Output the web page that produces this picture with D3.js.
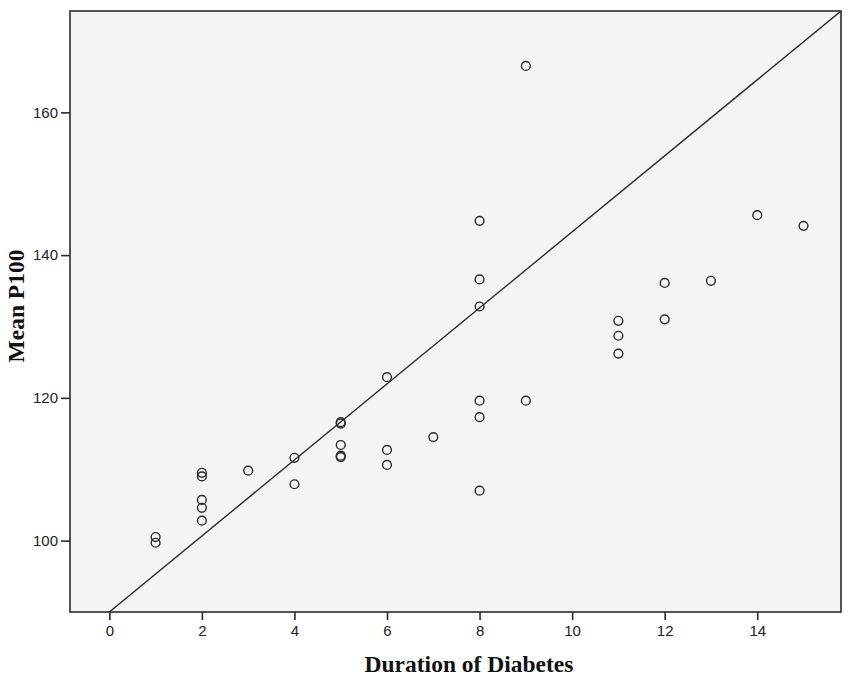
<!DOCTYPE html>
<html><head><meta charset="utf-8">
<script src="https://cdn.jsdelivr.net/npm/d3@7"></script>
<style>body{margin:0;background:#fff}svg{display:block}</style>
</head><body>
<svg id="c" width="850" height="679"></svg>
<script>
const duration = [1,1,2,2,2,2,2,3,4,4,5,5,5,5,5,6,6,6,7,8,8,8,8,8,8,9,9,11,11,11,12,12,13,14,15];
const meanP100 = [100.5,99.7,109.5,109.0,105.7,104.6,102.8,109.8,111.6,107.9,116.6,116.4,113.4,111.9,111.7,122.9,112.7,110.6,114.5,144.8,136.6,132.8,119.6,117.3,107.0,166.5,119.6,130.8,128.7,126.2,136.1,131.0,136.4,145.6,144.1];
const xTicks = [0,2,4,6,8,10,12,14];
const yTicks = [100,120,140,160];
const refLine = [[0,90],[15.81,174.2]];
const xDomain = [-0.85, 15.81];
const yDomain = [90, 174.2];

const svg = d3.select("#c");
const L = 70, R = 841, T = 11, B = 612;
const x = d3.scaleLinear().domain(xDomain).range([L, R]);
const y = d3.scaleLinear().domain(yDomain).range([B, T]);

svg.append("rect").attr("x", L).attr("y", T).attr("width", R-L).attr("height", B-T)
  .attr("fill", "#f3f4f4");

svg.append("defs").append("clipPath").attr("id","clip")
  .append("rect").attr("x", L).attr("y", T).attr("width", R-L).attr("height", B-T);

svg.append("path").datum(refLine)
  .attr("clip-path","url(#clip)")
  .attr("d", d3.line().x(d=>x(d[0])).y(d=>y(d[1])))
  .attr("fill","none").attr("stroke","#2b2b2b").attr("stroke-width",1.4);

svg.append("g").selectAll("circle").data(duration.map((d,i)=>[d, meanP100[i]]))
  .join("circle")
  .attr("cx", d=>x(d[0])).attr("cy", d=>y(d[1])).attr("r", 4.4)
  .attr("fill","none").attr("stroke","#2b2b2b").attr("stroke-width",1.4);

svg.append("rect").attr("x", L).attr("y", T).attr("width", R-L).attr("height", B-T)
  .attr("fill", "none").attr("stroke","#2b2b2b").attr("stroke-width",1.6);

const xAxis = svg.append("g").attr("transform", `translate(0,${B})`)
  .call(d3.axisBottom(x).tickValues(xTicks).tickSize(8).tickPadding(5).tickFormat(d3.format("d")));
const yAxis = svg.append("g").attr("transform", `translate(${L},0)`)
  .call(d3.axisLeft(y).tickValues(yTicks).tickSize(9).tickPadding(3).tickFormat(d3.format("d")));
[xAxis, yAxis].forEach(a => {
  a.select(".domain").remove();
  a.selectAll("line").attr("stroke","#2b2b2b").attr("stroke-width",1.6);
  a.selectAll("text").attr("fill","#222").style("font-family","'Liberation Sans', Arial, sans-serif").style("font-size","15px");
});

svg.append("text").attr("x", 469).attr("y", 672).attr("text-anchor","middle")
  .style("font-family","'Liberation Serif', 'Times New Roman', serif").style("font-weight","bold").style("font-size","23.5px")
  .attr("fill","#111").text("Duration of Diabetes");
svg.append("text").attr("transform","translate(24,306) rotate(-90)").attr("text-anchor","middle")
  .style("font-family","'Liberation Serif', 'Times New Roman', serif").style("font-weight","bold").style("font-size","23.5px")
  .attr("fill","#111").text("Mean P100");
</script>
</body></html>
